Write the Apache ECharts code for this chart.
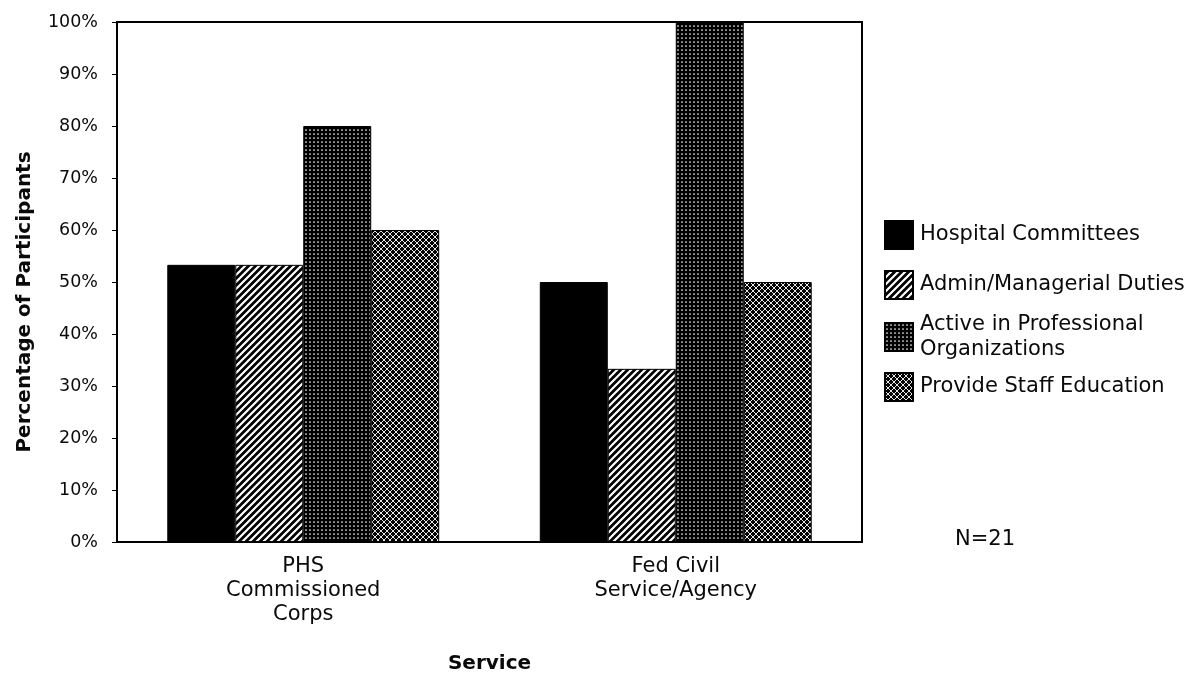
<!DOCTYPE html>
<html>
<head>
<meta charset="utf-8">
<script src="https://cdn.jsdelivr.net/npm/echarts@6/dist/echarts.min.js"></script>
<style>
  html, body { margin: 0; padding: 0; background: #fff; }
  #chart { width: 1202px; height: 679px; }
</style>
</head>
<body>
<div id="chart"></div>
<script>
// categories and values (percent of participants)
const categories = ['PHS\nCommissioned\nCorps', 'Fed Civil\nService/Agency'];
const hospitalCommittees = [53.3, 50];
const adminDuties = [53.3, 33.3];
const professionalOrgs = [80, 100];
const staffEducation = [60, 50];
const yTicks = [0, 10, 20, 30, 40, 50, 60, 70, 80, 90, 100];

const FONT = '"DejaVu Sans", Arial, sans-serif';
const INK = '#0a0a0a';

// small canvas tiles used as fill patterns
function tile(size, draw) {
  const c = document.createElement('canvas');
  c.width = size; c.height = size;
  const ctx = c.getContext('2d');
  ctx.fillStyle = '#000';
  ctx.fillRect(0, 0, size, size);
  draw(ctx, size);
  return { image: c, repeat: 'repeat' };
}

// white "/" stripes on black
const hatchFill = tile(7, function (ctx, s) {
  ctx.strokeStyle = '#fff';
  ctx.lineWidth = 2.2;
  ctx.beginPath();
  ctx.moveTo(0, s); ctx.lineTo(s, 0);
  ctx.moveTo(-s / 2, s / 2); ctx.lineTo(s / 2, -s / 2);
  ctx.moveTo(s / 2, s * 1.5); ctx.lineTo(s * 1.5, s / 2);
  ctx.stroke();
});

// dense white dots on black
const dotFill = tile(4, function (ctx) {
  ctx.fillStyle = '#fff';
  ctx.beginPath();
  ctx.arc(2, 2, 0.85, 0, Math.PI * 2);
  ctx.fill();
});

// white cross lattice on black
const crossFill = tile(6, function (ctx, s) {
  ctx.strokeStyle = '#fff';
  ctx.lineWidth = 0.9;
  ctx.beginPath();
  ctx.moveTo(0, 0); ctx.lineTo(s, s);
  ctx.moveTo(0, s); ctx.lineTo(s, 0);
  ctx.stroke();
});

const chart = echarts.init(document.getElementById('chart'));

function legendFor(name, top) {
  return {
    data: [name],
    left: 884,
    top: top,
    orient: 'vertical',
    padding: 0,
    itemWidth: 28,
    itemHeight: 28,
    selectedMode: false,
    icon: 'rect',
    textStyle: { fontFamily: FONT, fontSize: 21, color: INK, lineHeight: 25, padding: [0, 0, 0, 2] }
  };
}

function barSeries(name, data, fill) {
  return {
    name: name,
    type: 'bar',
    data: data,
    barGap: 0,
    barCategoryGap: '27%',
    itemStyle: { color: fill, borderColor: '#000', borderWidth: 1 },
    emphasis: { disabled: true }
  };
}

chart.setOption({
  animation: false,
  backgroundColor: '#fff',
  grid: {
    left: 117, right: 340, top: 22, bottom: 137,
    show: true, borderColor: '#000', borderWidth: 2
  },
  legend: [
    legendFor('Hospital Committees', 220),
    legendFor('Admin/Managerial Duties', 270),
    legendFor('Active in Professional\nOrganizations', 312),
    legendFor('Provide Staff Education', 372)
  ],
  xAxis: {
    type: 'category',
    data: categories,
    name: 'Service',
    nameLocation: 'middle',
    nameGap: 112,
    nameTextStyle: { fontFamily: FONT, fontSize: 20, fontWeight: 'bold', color: INK },
    axisLine: { lineStyle: { color: '#000', width: 2 } },
    axisTick: { show: false },
    axisLabel: { fontFamily: FONT, fontSize: 21, color: INK, lineHeight: 24, margin: 13 }
  },
  yAxis: {
    type: 'value',
    min: yTicks[0],
    max: yTicks[yTicks.length - 1],
    interval: yTicks[1] - yTicks[0],
    axisLine: { show: true, lineStyle: { color: '#000', width: 2 } },
    axisTick: { show: true, length: 5, lineStyle: { color: '#000' } },
    splitLine: { show: false },
    axisLabel: { fontFamily: FONT, fontSize: 17.5, color: INK, margin: 19, formatter: '{value}%' }
  },
  graphic: [
    {
      type: 'text',
      x: 25, y: 302,
      rotation: Math.PI / 2,
      style: {
        text: 'Percentage of Participants',
        font: 'bold 20px ' + FONT,
        fill: INK,
        align: 'center',
        verticalAlign: 'middle'
      }
    },
    {
      type: 'text',
      x: 955, y: 540,
      style: {
        text: 'N=21',
        font: '21px ' + FONT,
        fill: INK,
        align: 'left',
        verticalAlign: 'middle'
      }
    }
  ],
  series: [
    barSeries('Hospital Committees', hospitalCommittees, '#000'),
    barSeries('Admin/Managerial Duties', adminDuties, hatchFill),
    barSeries('Active in Professional\nOrganizations', professionalOrgs, dotFill),
    barSeries('Provide Staff Education', staffEducation, crossFill)
  ]
});
</script>
</body>
</html>
